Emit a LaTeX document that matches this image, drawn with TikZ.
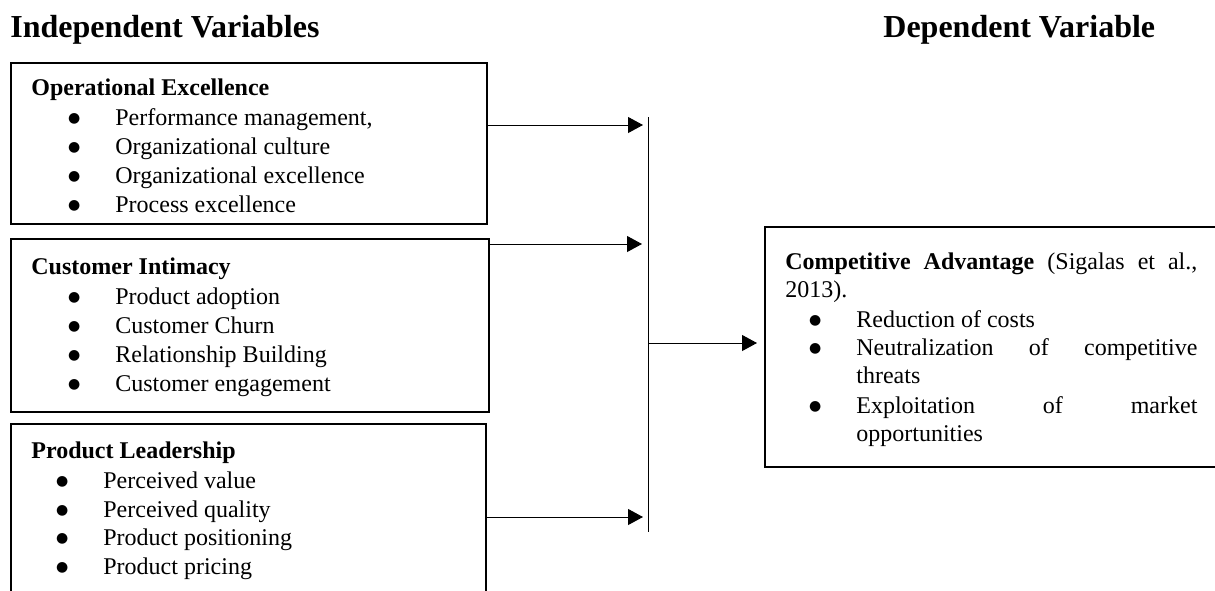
\documentclass[tikz,border=0pt]{standalone}
\usepackage{fontspec}
\setmainfont{Liberation Serif}
\newfontfamily\bulletfont{DejaVu Sans}
\usetikzlibrary{arrows.meta}
\hyphenpenalty=10000
\exhyphenpenalty=10000

\newcommand{\bulitem}{\makebox[23.5pt][l]{\hspace{-0.2pt}\raisebox{1.3pt}{\bulletfont\fontsize{7}{8}\selectfont ●}}}

\tikzset{
  varbox/.style={draw,line width=1pt,anchor=north west,inner sep=0pt},
  bigtitle/.style={anchor=base west,inner sep=0pt,font=\fontsize{16}{19}\selectfont\bfseries},
  boxhead/.style={anchor=base west,inner sep=0pt,font=\fontsize{12}{14.3}\selectfont\bfseries},
  bullettext/.style={anchor=base west,inner sep=0pt,font=\fontsize{12}{14.3}\selectfont},
  link/.style={line width=0.5pt,-{Triangle[length=7.5pt,width=8pt]}},
}

\begin{document}
\begin{tikzpicture}[x=0.5pt,y=-0.5pt]
\clip (0,0) rectangle (1215,590);

% column titles
\node[bigtitle] (indep) at (10,37) {Independent Variables};
\node[bigtitle] (dep) at (883,37) {Dependent Variable};

% independent variables
\node[varbox,minimum width=238pt,minimum height=80.5pt] (opx) at (10,62) {};
\node[boxhead] (opxhead) at (31,95) {Operational Excellence};
\node[bullettext] (opx1) at (68,125) {\bulitem Performance management,};
\node[bullettext] (opx2) at (68,154) {\bulitem Organizational culture};
\node[bullettext] (opx3) at (68,183) {\bulitem Organizational excellence};
\node[bullettext] (opx4) at (68,212) {\bulitem Process excellence};

\node[varbox,minimum width=239pt,minimum height=86.5pt] (cix) at (10,238) {};
\node[boxhead] (cixhead) at (31,274) {Customer Intimacy};
\node[bullettext] (cix1) at (68,304) {\bulitem Product adoption};
\node[bullettext] (cix2) at (68,333) {\bulitem Customer Churn};
\node[bullettext] (cix3) at (68,362) {\bulitem Relationship Building};
\node[bullettext] (cix4) at (68,391) {\bulitem Customer engagement};

\node[varbox,minimum width=237.5pt,minimum height=90pt] (plx) at (10,423) {};
\node[boxhead] (plxhead) at (31,458) {Product Leadership};
\node[bullettext] (plx1) at (56,488) {\bulitem Perceived value};
\node[bullettext] (plx2) at (56,517) {\bulitem Perceived quality};
\node[bullettext] (plx3) at (56,545) {\bulitem Product positioning};
\node[bullettext] (plx4) at (56,574) {\bulitem Product pricing};

% dependent variable
\node[varbox,minimum width=236pt,minimum height=120pt] (cadv) at (764,226) {};
\node[bullettext,text width=206pt,align=justify] (cadvhead) at (785,269)
  {\textbf{Competitive Advantage} (Sigalas et al., 2013).};
\node[bullettext] (cadv1) at (809,327) {\bulitem Reduction of costs};
\node[bullettext,text width=194pt,align=justify] (cadv2) at (809,355)
  {\hangindent=23.5pt\hangafter=1\noindent\bulitem Neutralization of competitive threats\par};
\node[bullettext,text width=194pt,align=justify] (cadv3) at (809,413)
  {\hangindent=23.5pt\hangafter=1\noindent\bulitem Exploitation of market opportunities\par};

% connectors
\coordinate (bustop) at (648,117);
\coordinate (busbot) at (648,532);
\coordinate (busmid) at (648,343);
\draw[line width=0.5pt] (bustop) -- (busbot);
\draw[link,shorten >=2.5pt] (opx.east |- 0,125) -- (bustop |- 0,125);
\draw[link,shorten >=3pt] (cix.east |- 0,244) -- (bustop |- 0,244);
\draw[link,shorten >=2.5pt] (plx.east |- 0,517) -- (bustop |- 0,517);
\draw[link,shorten >=3.5pt] (busmid) -- (cadv.west |- busmid);
\end{tikzpicture}
\end{document}
